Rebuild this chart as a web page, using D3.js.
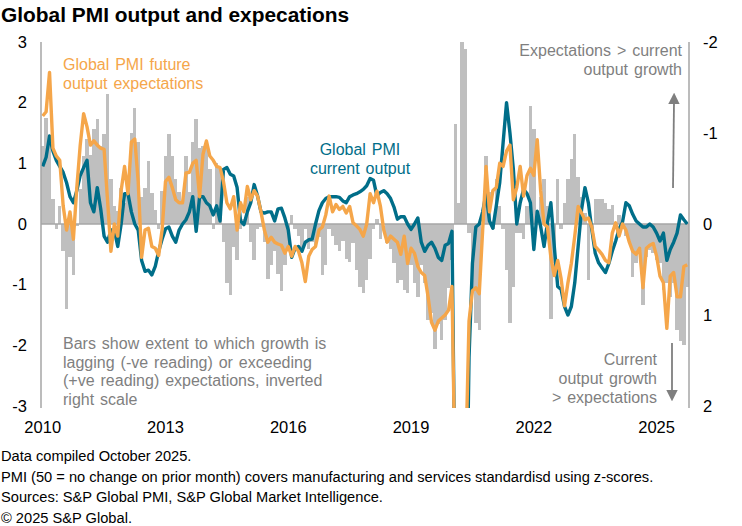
<!DOCTYPE html>
<html>
<head>
<meta charset="utf-8">
<script src="https://cdn.jsdelivr.net/npm/d3@7"></script>
<style>
    body { margin: 0; background: #fff; }
    svg { display: block; font-family: "Liberation Sans", Arial, sans-serif; }
</style>
</head>
<body>
<svg id="chart" width="742" height="526"></svg>
<script>
// monthly z-scores, Jan 2010 .. Oct 2025
const startYear = 2010;
const yearTicks = [2010, 2013, 2016, 2019, 2022, 2025];
const leftTicks = [3, 2, 1, 0, -1, -2, -3];
const rightTicks = [-2, -1, 0, 1, 2];

const currentOutput = [
    0.95, 1.1, 1.45, 1.2, 1.05, 0.95, 0.85, 0.68, 0.45, 0.35, 0.55, 0.8,
    0.93, 1.05, 0.35, 0.2, 0.6, 0.25, -0.2, -0.3, -0.1, -0.1, -0.37, 0.0,
    0.5, 0.5, 0.2, 0.0, -0.1, -0.6, -0.78, -0.76, -0.84, -0.7, -0.45, -0.25,
    -0.08, -0.05, -0.2, -0.3, -0.1, 0.0, 0.07, 0.2, 0.45, -0.12, 0.45, 0.45,
    0.35, 0.3, 0.15, 0.3, 0.05, 0.9, 0.93, 0.82, 0.79, 0.6, 0.05, -0.01,
    0.2, 0.35, 0.65, 0.46, 0.2, 0.18, 0.2, 0.2, 0.05, 0.25, 0.26, 0.1,
    -0.1, -0.55, -0.4, -0.37, -0.45, -0.3, -0.26, -0.25, 0.0, 0.22, 0.35, 0.42,
    0.45, 0.45, 0.45, 0.44, 0.38, 0.35, 0.45, 0.48, 0.5, 0.53, 0.57, 0.63,
    0.75, 0.72, 0.46, 0.52, 0.55, 0.5, 0.42, 0.28, 0.08, 0.12, 0.12, 0.0,
    -0.09, 0.0, 0.1, -0.3, -0.45, -0.35, -0.3, -0.4, -0.55, -0.6, -0.35, -0.32,
    -0.12, -5, -7, -10, -6, -2.2, -0.65, -0.05, 0.0, 0.2, 0.5, 0.05,
    -0.07, 0.3, 0.68, 1.34, 2.0, 1.5, 0.9, 0.0, 0.35, 0.57, 0.5, 0.35,
    -0.42, 0.21, -0.04, -0.37, 0.02, 0.35, -0.37, -1.03, -1.08, -1.36, -1.5, -1.36,
    -0.97, -0.37, 0.24, 0.6, 0.35, -0.09, -0.48, -0.64, -0.72, -0.8, -0.65, -0.45,
    -0.28, -0.08, 0.03, 0.35, 0.3, 0.16, 0.05, 0.0, -0.05, -0.05, 0.0, -0.05,
    -0.15, -0.28, -0.15, -0.6, -0.42, -0.3, -0.15, 0.15, 0.07, 0.0
];

const futureExpectations = [
    1.78, 1.85, 2.5, 1.25, 1.12, 1.05, 0.3, -0.1, 0.2, -0.25, 0.6, 1.3,
    1.82, 1.6, 1.3, 1.37, 1.3, 1.25, 1.23, 0.4, -0.45, 0.0, -0.2, 0.55,
    0.95, 0.5, 1.35, 1.4, 0.7, -0.55, -0.1, -0.07, -0.37, -0.4, -0.52, -0.1,
    0.7, 0.77, 0.6, 0.4, 0.35, 0.35, 0.84, 0.85, 1.0, 1.05, 0.45, 1.15,
    1.37, 1.12, 1.05, 0.95, 0.93, 0.7, 0.35, 0.25, 0.45, -0.1, 0.35, 0.2,
    0.62, 0.4, 0.55, 0.46, 0.2, -0.1, -0.3, -0.22, -0.3, -0.33, -0.35, -0.48,
    -0.37, -0.53, -0.37, -0.45, -0.64, -0.95, -0.53, -0.42, -0.37, -0.1, -0.05, 0.15,
    0.46, 0.2, 0.32, 0.24, 0.29, 0.18, 0.29, 0.02, -0.03, -0.09, -0.2, 0.0,
    0.5, 0.35, 0.54, 0.3, -0.1, -0.3, -0.2, -0.25, -0.3, -0.5, -0.2, -0.65,
    -0.4, -0.48, -0.7, -0.8, -0.85, -1.2, -1.62, -1.75, -1.6, -1.55, -1.5, -1.42,
    -1.03, -4.5, -6, -6, -4, -1.6, -1.1, -1.05, -1.15, -0.1, 0.95, 0.2,
    0.55, 0.6, 1.0, 0.95, 1.2, 1.3, 0.4, 0.6, 0.95, 0.46, 0.8, 0.92,
    0.8, 1.39, 0.55, 0.0, -0.05, -0.55, -0.85, -0.6, -0.9, -1.35, -0.97, -0.65,
    -0.2, 0.29, 0.18, 0.07, 0.1, -0.05, -0.37, -0.43, -0.5, -0.6, -0.64, -0.15,
    0.02, -0.2, 0.0, -0.1, -0.3, -0.45, -0.5, -0.4, -1.05, -0.4, -0.35, -0.32,
    -0.53, -0.86, -0.97, -1.72, -0.86, -0.8, -1.2, -1.2, -0.7, -0.67
];

// gap between current output and expectations, read on the inverted right scale
const gapBars = [
    -0.86, -1.17, -0.9, -0.27, 0.05, -0.2, 0.3, 0.93, 0.36, 0.56, 0.02, -0.38,
    -0.75, -0.93, -0.76, -1.04, -1.15, -0.86, -0.99, -1.43, -0.5, -0.2, -0.14, -0.4,
    -0.23, -0.49, -1.0, -1.28, -0.9, -0.3, -0.4, -0.69, -0.34, -0.15, 0.05, -0.36,
    -0.75, -0.99, -0.75, -0.5, -0.35, -0.25, -0.75, -0.35, -0.9, -1.15, -0.84, -0.86,
    -0.84, -0.6, 0.05, -0.67, -0.6, 0.2, 0.65, 0.78, 0.25, 0.4, 0.05, -0.05,
    -0.3, 0.2, 0.4, 0.05, 0.03, 0.2, 0.6, 0.45, 0.3, 0.55, 0.74, 0.45,
    0.28, -0.1, 0.06, 0.13, 0.25, 0.05, 0.28, 0.2, 0.25, 0.14, 0.56, 0.45,
    0.06, 0.13, 0.23, 0.3, 0.19, 0.39, 0.42, 0.21, 0.5, 0.69, 0.76, 0.62,
    0.39, 0.06, -0.05, 0.17, 0.0, 0.21, 0.28, 0.43, 0.65, 0.61, 0.72, 0.76,
    0.45, 0.65, 0.8, 0.45, 0.65, 1.06, 0.98, 1.37, 1.1, 1.28, 1.06, 0.7,
    0.4, -1.1, -0.23, -2.0, -1.92, 0.1, 0.75, 1.09, 1.17, 0.01, -0.75, -0.35,
    0.06, -0.5, -0.2, 0.06, 0.5, 1.09, 0.69, 0.1, 0.1, 0.17, -0.2, -1.3,
    -1.04, -0.14, -0.3, -0.5, -0.2, 1.04, 0.43, -0.49, 0.06, -0.23, -0.5, -0.71,
    -0.99, -0.52, -0.3, -0.12, 0.61, 0.06, -0.27, -0.27, -0.27, -0.23, -0.16, -0.21,
    0.0, -0.1, 0.05, 0.13, 0.2, 0.58, 0.43, 0.28, 0.89, 0.36, 0.29, 0.32,
    0.4, 0.43, 0.72, 0.65, 0.8, 0.65, 1.17, 1.29, 1.33, 0.69
];

const footnotes = [
    "Data compiled October 2025.",
    "PMI (50 = no change on prior month) covers manufacturing and services standardisd using z-scores.",
    "Sources: S&P Global PMI, S&P Global Market Intelligence.",
    "\u00a9 2025 S&P Global."
];

var teal = "#006e89", orange = "#f5a64a", barGrey = "#bfbfbf",
    axisGrey = "#a6a6a6", noteGrey = "#7f7f7f";

var svg = d3.select("#chart"),
    plot = { left: 41, right: 689, top: 42, bottom: 406 },
    tickFont = "16.5px";

var months = d3.range(currentOutput.length);

var x = d3.scaleBand().domain(months).range([plot.left, plot.right]).padding(0),
    yL = d3.scaleLinear().domain([-3, 3]).range([plot.bottom, plot.top]),
    yR = d3.scaleLinear().domain([2, -2]).range([plot.bottom, plot.top]);

var monthOf = function (year) { return (year - startYear) * 12; };
var cx = function (i) { return x(i) + x.bandwidth() / 2; };
// whole-pixel bar edges so neighbouring bars join without seams
var barLeft = function (i) { return Math.round(x(i)); };
var barRight = function (i) { return Math.round(x(i) + x.bandwidth()); };

// title
svg.append("text")
    .attr("x", 1).attr("y", 22)
    .style("font-size", "20.9px").style("font-weight", "bold")
    .attr("fill", "#000")
    .text("Global PMI output and expecations");

svg.append("clipPath").attr("id", "plot-clip")
    .append("rect")
    .attr("x", plot.left).attr("y", plot.top)
    .attr("width", plot.right - plot.left).attr("height", plot.bottom - plot.top + 2);

// bars on right scale
svg.append("g").attr("class", "bars")
    .attr("shape-rendering", "crispEdges")
    .selectAll("rect")
    .data(gapBars).enter()
    .append("rect")
    .attr("x", (d, i) => barLeft(i))
    .attr("width", (d, i) => barRight(i) - barLeft(i))
    .attr("y", d => Math.min(yR(d), yR(0)))
    .attr("height", d => Math.abs(yR(d) - yR(0)))
    .attr("fill", barGrey);

// zero line
svg.append("line")
    .attr("x1", plot.left).attr("x2", plot.right)
    .attr("y1", yL(0)).attr("y2", yL(0))
    .attr("stroke", axisGrey).attr("stroke-width", 1.3);

var line = d3.line()
    .x((d, i) => cx(i))
    .y(d => yL(d));

var lines = svg.append("g").attr("clip-path", "url(#plot-clip)");

lines.append("path")
    .datum(currentOutput)
    .attr("d", line)
    .attr("fill", "none")
    .attr("stroke", teal)
    .attr("stroke-width", 3.4)
    .attr("stroke-linejoin", "round");

lines.append("path")
    .datum(futureExpectations)
    .attr("d", line)
    .attr("fill", "none")
    .attr("stroke", orange)
    .attr("stroke-width", 3.4)
    .attr("stroke-linejoin", "round");

// axes
var leftAxis = svg.append("g")
    .attr("transform", "translate(" + plot.left + ",0)")
    .call(d3.axisLeft(yL).tickValues(leftTicks).tickSize(0).tickPadding(14)
        .tickFormat(d => String(d)));

var rightAxis = svg.append("g")
    .attr("transform", "translate(" + plot.right + ",0)")
    .call(d3.axisRight(yR).tickValues(rightTicks).tickSize(0).tickPadding(14)
        .tickFormat(d => String(d)));

var bottomAxis = svg.append("g")
    .attr("transform", "translate(0," + plot.bottom + ")")
    .call(d3.axisBottom(x).tickValues(yearTicks.map(monthOf)).tickSize(0).tickPadding(15)
        .tickFormat(i => String(startYear + i / 12)));
bottomAxis.select(".domain").remove();

[leftAxis, rightAxis].forEach(function (g) {
    g.select(".domain").attr("stroke", axisGrey).attr("stroke-width", 1.5)
        .attr("d", "M0," + plot.top + "V" + (plot.bottom + 2));
});
[leftAxis, rightAxis, bottomAxis].forEach(function (g) {
    g.selectAll("text")
        .style("font-size", tickFont)
        .style("font-family", "\"Liberation Sans\", Arial, sans-serif")
        .attr("fill", "#000");
});

// annotations
var addLines = function (textLines, xPos, yPos, lineH, color, anchor) {
    var t = svg.append("text")
        .attr("text-anchor", anchor || "start")
        .attr("fill", color)
        .style("font-size", "16px")
        .style("word-spacing", "1.5px");
    textLines.forEach(function (s, k) {
        t.append("tspan").attr("x", xPos).attr("y", yPos + k * lineH).text(s);
    });
};

addLines(["Global PMI future", "output expectations"], 63, 70, 18.5, orange);
addLines(["Global PMI", "current output"], 360, 155, 19, teal, "middle");
addLines(["Bars show extent to which growth is",
    "lagging (-ve reading) or exceeding",
    "(+ve reading) expectations, inverted",
    "right scale"], 63, 349, 18.5, noteGrey);
addLines(["Expectations > current", "output growth"], 682, 56, 19, noteGrey, "end");
addLines(["Current", "output growth", "> expectations"], 657, 365, 19, noteGrey, "end");

// arrows
var defs = svg.append("defs");
defs.append("marker").attr("id", "arrow-head")
    .attr("viewBox", "0 0 10 10").attr("refX", 2).attr("refY", 5)
    .attr("markerWidth", 6.5).attr("markerHeight", 6.5)
    .attr("orient", "auto-start-reverse")
    .append("path").attr("d", "M0,0L10,5L0,10Z").attr("fill", noteGrey);

svg.append("line")
    .attr("x1", 673).attr("y1", 188).attr("x2", 674).attr("y2", 102)
    .attr("stroke", noteGrey).attr("stroke-width", 1.8)
    .attr("marker-end", "url(#arrow-head)");
svg.append("line")
    .attr("x1", 672).attr("y1", 343).attr("x2", 672).attr("y2", 392)
    .attr("stroke", noteGrey).attr("stroke-width", 1.8)
    .attr("marker-end", "url(#arrow-head)");

// footnotes
svg.append("g").attr("class", "footnotes")
    .selectAll("text")
    .data(footnotes).enter()
    .append("text")
    .attr("x", 1)
    .attr("y", (d, k) => 461 + k * 20.7)
    .style("font-size", "14.65px")
    .attr("fill", "#000")
    .text(d => d);
</script>
</body>
</html>
